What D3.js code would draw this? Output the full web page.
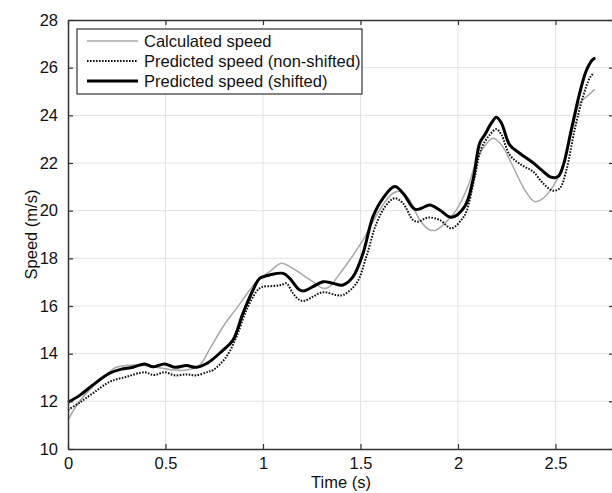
<!DOCTYPE html>
<html>
<head>
<meta charset="utf-8">
<script src="https://cdn.jsdelivr.net/npm/d3@7.9.0/dist/d3.min.js"></script>
<style>
  body { margin: 0; background: #fff; }
  text { font-family: "Liberation Sans", Arial, sans-serif; fill: #111; }
</style>
</head>
<body>
<div id="chart"></div>
<script>
// calculated speed (grey)
const calcT = [0, 0.05, 0.111, 0.18, 0.248, 0.333, 0.42, 0.52, 0.607, 0.675, 0.727, 0.795, 0.864, 0.932, 0.966, 1.034, 1.094, 1.137, 1.205, 1.256, 1.308, 1.342, 1.376, 1.445, 1.513, 1.564, 1.615, 1.667, 1.71, 1.752, 1.804, 1.855, 1.889, 1.932, 1.992, 2.05, 2.1, 2.15, 2.18, 2.223, 2.274, 2.333, 2.393, 2.436, 2.487, 2.538, 2.581, 2.624, 2.659, 2.701];
const calcV = [11.22, 11.9, 12.48, 13.0, 13.43, 13.52, 13.47, 13.34, 13.31, 13.52, 14.2, 15.13, 15.9, 16.67, 17.02, 17.44, 17.79, 17.65, 17.3, 17.02, 16.74, 16.81, 17.16, 17.93, 18.77, 19.54, 20.24, 20.73, 20.8, 20.45, 19.61, 19.19, 19.19, 19.47, 20.03, 21.0, 22.2, 22.85, 23.04, 22.76, 21.99, 21.01, 20.38, 20.52, 21.01, 21.85, 23.25, 24.51, 24.78, 25.09];

// predicted speed, non-shifted (dotted)
const nonShiftT = [0, 0.06, 0.128, 0.214, 0.3, 0.393, 0.44, 0.496, 0.547, 0.607, 0.658, 0.718, 0.744, 0.812, 0.864, 0.915, 0.966, 0.992, 1.051, 1.094, 1.12, 1.154, 1.188, 1.214, 1.256, 1.308, 1.376, 1.41, 1.479, 1.53, 1.582, 1.633, 1.675, 1.718, 1.769, 1.795, 1.846, 1.906, 1.966, 2.017, 2.043, 2.086, 2.12, 2.163, 2.197, 2.223, 2.265, 2.325, 2.385, 2.436, 2.487, 2.522, 2.556, 2.598, 2.641, 2.675, 2.696];
const nonShiftV = [11.64, 11.95, 12.34, 12.82, 13.03, 13.22, 13.1, 13.22, 13.09, 13.13, 13.09, 13.24, 13.31, 13.87, 14.71, 15.83, 16.6, 16.79, 16.84, 16.88, 16.95, 16.53, 16.25, 16.22, 16.39, 16.58, 16.46, 16.46, 16.95, 18.07, 19.47, 20.24, 20.52, 20.31, 19.61, 19.54, 19.71, 19.61, 19.26, 19.61, 19.96, 21.43, 22.62, 23.18, 23.42, 23.18, 22.34, 21.92, 21.64, 21.15, 20.84, 20.94, 21.71, 23.39, 24.78, 25.56, 25.79];

// predicted speed, shifted (thick)
const shiftT = [0, 0.06, 0.128, 0.214, 0.27, 0.333, 0.393, 0.436, 0.496, 0.547, 0.607, 0.658, 0.718, 0.795, 0.846, 0.897, 0.949, 0.983, 1.034, 1.103, 1.137, 1.188, 1.214, 1.256, 1.308, 1.359, 1.41, 1.462, 1.513, 1.564, 1.615, 1.675, 1.718, 1.778, 1.812, 1.855, 1.906, 1.966, 2.034, 2.077, 2.111, 2.137, 2.171, 2.197, 2.223, 2.265, 2.316, 2.385, 2.428, 2.479, 2.513, 2.538, 2.581, 2.624, 2.659, 2.692, 2.705];
const shiftV = [11.96, 12.25, 12.69, 13.18, 13.34, 13.43, 13.57, 13.45, 13.57, 13.43, 13.5, 13.43, 13.62, 14.15, 14.57, 15.69, 16.67, 17.16, 17.3, 17.37, 17.16, 16.67, 16.64, 16.81, 17.02, 16.95, 16.88, 17.23, 18.21, 19.75, 20.52, 21.01, 20.73, 20.06, 20.1, 20.24, 20.03, 19.72, 20.17, 21.29, 22.83, 23.18, 23.67, 23.92, 23.67, 22.76, 22.41, 22.01, 21.71, 21.4, 21.43, 21.85, 23.39, 24.93, 25.9, 26.35, 26.4];

const xTicks = [0, 0.5, 1, 1.5, 2, 2.5];
const yTicks = [10, 12, 14, 16, 18, 20, 22, 24, 26, 28];
const legendLabels = ["Calculated speed", "Predicted speed (non-shifted)", "Predicted speed (shifted)"];

const W = 612, H = 493;
const margin = {top: 20, right: -2, bottom: 44, left: 68};

const svg = d3.select("#chart").append("svg")
    .attr("width", W).attr("height", H);

const x = d3.scaleLinear().domain([0, 2.8]).range([margin.left, W - margin.right]);
const y = d3.scaleLinear().domain([10, 28]).range([H - margin.bottom, margin.top]);

// grid
svg.append("g").selectAll("line").data(xTicks.slice(1))
    .join("line")
    .attr("x1", d => x(d)).attr("x2", d => x(d))
    .attr("y1", y(10)).attr("y2", y(28))
    .attr("stroke", "#e2e2e2").attr("stroke-width", 1);
svg.append("g").selectAll("line").data(yTicks.slice(1, -1))
    .join("line")
    .attr("x1", x(0)).attr("x2", x(2.8))
    .attr("y1", d => y(d)).attr("y2", d => y(d))
    .attr("stroke", "#e2e2e2").attr("stroke-width", 1);

// lines
const series = [
  {t: calcT, v: calcV, color: "#a8a8a8", width: 1.5, dash: null},
  {t: nonShiftT, v: nonShiftV, color: "#111", width: 2, dash: "1.6,1.4"},
  {t: shiftT, v: shiftV, color: "#000", width: 3, dash: null}
];
const line = d3.line()
    .x(d => x(d[0])).y(d => y(d[1]))
    .curve(d3.curveCatmullRom.alpha(0.5));

series.forEach(s => {
  svg.append("path")
    .datum(d3.zip(s.t, s.v))
    .attr("d", line)
    .attr("fill", "none")
    .attr("stroke", s.color)
    .attr("stroke-width", s.width)
    .attr("stroke-dasharray", s.dash)
    .attr("stroke-linejoin", "round");
});

// axes (ticks inside, on all four sides)
const tickLen = -5;
svg.append("g")
    .attr("transform", `translate(0,${y(10)})`)
    .call(d3.axisBottom(x).tickValues(xTicks).tickSizeInner(tickLen).tickSizeOuter(0)
      .tickPadding(8).tickFormat(d3.format("")))
    .call(g => g.selectAll("text").attr("font-size", 16.5).attr("dy", "0.71em"));
svg.append("g")
    .attr("transform", `translate(0,${y(28)})`)
    .call(d3.axisTop(x).tickValues(xTicks).tickSizeInner(tickLen).tickSizeOuter(0).tickFormat(""));
svg.append("g")
    .attr("transform", `translate(${x(0)},0)`)
    .call(d3.axisLeft(y).tickValues(yTicks).tickSizeInner(tickLen).tickSizeOuter(0).tickPadding(10))
    .call(g => g.selectAll("text").attr("font-size", 16.5));
svg.append("g")
    .attr("transform", `translate(${x(2.8)},0)`)
    .call(d3.axisRight(y).tickValues(yTicks).tickSizeInner(tickLen).tickSizeOuter(0).tickFormat(""));

svg.selectAll(".domain").attr("stroke", "#333").attr("stroke-width", 1.5);
svg.selectAll(".tick line").attr("stroke", "#333").attr("stroke-width", 1.2);

// axis titles
svg.append("text")
    .attr("x", (x(0) + x(2.8)) / 2).attr("y", 488)
    .attr("text-anchor", "middle").attr("font-size", 16.5)
    .text("Time (s)");
svg.append("text")
    .attr("transform", `translate(37,${(y(10) + y(28)) / 2}) rotate(-90)`)
    .attr("text-anchor", "middle").attr("font-size", 16.5)
    .text("Speed (m/s)");

// legend
const leg = svg.append("g");
leg.append("rect")
    .attr("x", 77).attr("y", 29).attr("width", 285).attr("height", 65)
    .attr("fill", "#fff").attr("stroke", "#333").attr("stroke-width", 1.2);
legendLabels.forEach((lab, i) => {
  const yy = 41 + i * 20;
  const s = series[i];
  leg.append("line")
    .attr("x1", 87).attr("x2", 138).attr("y1", yy).attr("y2", yy)
    .attr("stroke", s.color).attr("stroke-width", s.width)
    .attr("stroke-dasharray", s.dash);
  leg.append("text")
    .attr("x", 144).attr("y", yy).attr("dy", "0.35em")
    .attr("font-size", 16.5)
    .text(lab);
});
</script>
</body>
</html>
